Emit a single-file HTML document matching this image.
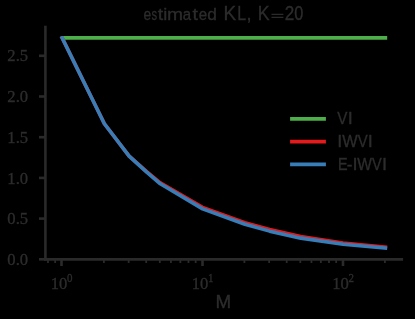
<!DOCTYPE html>
<html><head><meta charset="utf-8"><style>
html,body{margin:0;padding:0;background:#000;}
svg{display:block}
text{fill:#2d2d2d;stroke:#2d2d2d;stroke-width:0.35px}
.tk{font-family:"Liberation Serif",serif;font-size:16.6px}
.lg{font-family:"Liberation Sans",sans-serif;font-size:16px}
.tt{font-family:"Liberation Sans",sans-serif;font-size:19px}
.xl{font-family:"Liberation Sans",sans-serif;font-size:17px}
</style></head><body>
<svg width="415" height="319" viewBox="0 0 415 319">
<rect width="415" height="319" fill="#000"/>
<defs><clipPath id="cl"><rect x="0" y="36.05" width="415" height="283"/></clipPath></defs>
<path d="M62.60,37.89 H387.19" stroke="#4daf4a" stroke-width="3.6" fill="none"/>
<path d="M62.10,37.89 L104.39,123.77 L129.14,156.08 L146.69,171.71 L160.31,182.78 L202.60,207.37 L244.89,222.67 L269.64,229.51 L300.81,236.51 L343.10,242.94 L385.39,247.17" clip-path="url(#cl)" stroke="#e41a1c" stroke-width="3.6" stroke-linecap="square" stroke-linejoin="round" fill="none"/>
<path d="M62.10,37.89 L104.39,123.77 L129.14,156.08 L146.69,172.20 L160.31,183.76 L202.60,208.83 L244.89,224.30 L269.64,231.14 L300.81,238.14 L343.10,244.24 L385.39,248.07" clip-path="url(#cl)" stroke="#377eb8" stroke-width="3.6" stroke-linecap="square" stroke-linejoin="round" fill="none"/>
<path d="M45.40,27.00 V259.40" stroke="#2a2a2a" stroke-width="2.6" stroke-linecap="square" fill="none"/>
<path d="M45.40,259.40 H401.80" stroke="#2a2a2a" stroke-width="2.6" stroke-linecap="square" fill="none"/>
<path d="M39.00,259.30 H45.40" stroke="#2a2a2a" stroke-width="2.6" fill="none"/>
<path d="M39.00,218.60 H45.40" stroke="#2a2a2a" stroke-width="2.6" fill="none"/>
<path d="M39.00,177.90 H45.40" stroke="#2a2a2a" stroke-width="2.6" fill="none"/>
<path d="M39.00,137.20 H45.40" stroke="#2a2a2a" stroke-width="2.6" fill="none"/>
<path d="M39.00,96.50 H45.40" stroke="#2a2a2a" stroke-width="2.6" fill="none"/>
<path d="M39.00,55.80 H45.40" stroke="#2a2a2a" stroke-width="2.6" fill="none"/>
<path d="M61.50,259.40 V266.00" stroke="#2a2a2a" stroke-width="2.6" fill="none"/>
<path d="M202.50,259.40 V266.00" stroke="#2a2a2a" stroke-width="2.6" fill="none"/>
<path d="M343.00,259.40 V266.00" stroke="#2a2a2a" stroke-width="2.6" fill="none"/>
<path d="M47.98,259.40 V263.00" stroke="#2a2a2a" stroke-width="1.8" fill="none"/>
<path d="M55.17,259.40 V263.00" stroke="#2a2a2a" stroke-width="1.8" fill="none"/>
<path d="M103.89,259.40 V263.00" stroke="#2a2a2a" stroke-width="1.8" fill="none"/>
<path d="M128.64,259.40 V263.00" stroke="#2a2a2a" stroke-width="1.8" fill="none"/>
<path d="M146.19,259.40 V263.00" stroke="#2a2a2a" stroke-width="1.8" fill="none"/>
<path d="M159.81,259.40 V263.00" stroke="#2a2a2a" stroke-width="1.8" fill="none"/>
<path d="M170.93,259.40 V263.00" stroke="#2a2a2a" stroke-width="1.8" fill="none"/>
<path d="M180.34,259.40 V263.00" stroke="#2a2a2a" stroke-width="1.8" fill="none"/>
<path d="M188.48,259.40 V263.00" stroke="#2a2a2a" stroke-width="1.8" fill="none"/>
<path d="M195.67,259.40 V263.00" stroke="#2a2a2a" stroke-width="1.8" fill="none"/>
<path d="M244.39,259.40 V263.00" stroke="#2a2a2a" stroke-width="1.8" fill="none"/>
<path d="M269.14,259.40 V263.00" stroke="#2a2a2a" stroke-width="1.8" fill="none"/>
<path d="M286.69,259.40 V263.00" stroke="#2a2a2a" stroke-width="1.8" fill="none"/>
<path d="M300.31,259.40 V263.00" stroke="#2a2a2a" stroke-width="1.8" fill="none"/>
<path d="M311.43,259.40 V263.00" stroke="#2a2a2a" stroke-width="1.8" fill="none"/>
<path d="M320.84,259.40 V263.00" stroke="#2a2a2a" stroke-width="1.8" fill="none"/>
<path d="M328.98,259.40 V263.00" stroke="#2a2a2a" stroke-width="1.8" fill="none"/>
<path d="M336.17,259.40 V263.00" stroke="#2a2a2a" stroke-width="1.8" fill="none"/>
<path d="M384.89,259.40 V263.00" stroke="#2a2a2a" stroke-width="1.8" fill="none"/>
<path d="M291.9,118.90 H324.1" stroke="#4daf4a" stroke-width="3.6" stroke-linecap="square" fill="none"/>
<path d="M291.9,141.65 H324.1" stroke="#e41a1c" stroke-width="3.6" stroke-linecap="square" fill="none"/>
<path d="M291.9,164.40 H324.1" stroke="#377eb8" stroke-width="3.6" stroke-linecap="square" fill="none"/>
<path d="M271.5,14.35 H283.4 M271.5,17.3 H283.4" stroke="#2a2a2a" stroke-width="1.35" fill="none"/>
<g style="will-change:opacity;opacity:0.999"><text x="28.1" y="264.90" text-anchor="end" class="tk">0.0</text>
<text x="28.1" y="224.20" text-anchor="end" class="tk">0.5</text>
<text x="28.1" y="183.50" text-anchor="end" class="tk">1.0</text>
<text x="28.1" y="142.80" text-anchor="end" class="tk">1.5</text>
<text x="28.1" y="102.10" text-anchor="end" class="tk">2.0</text>
<text x="28.1" y="61.40" text-anchor="end" class="tk">2.5</text>
<text x="50.70" y="288.7" class="tk">10</text>
<text x="67.10" y="282.4" class="tk" style="font-size:12.6px" textLength="5.5" lengthAdjust="spacingAndGlyphs">0</text>
<text x="191.70" y="288.7" class="tk">10</text>
<text x="208.10" y="282.4" class="tk" style="font-size:12.6px" textLength="5.5" lengthAdjust="spacingAndGlyphs">1</text>
<text x="332.20" y="288.7" class="tk">10</text>
<text x="348.60" y="282.4" class="tk" style="font-size:12.6px" textLength="5.5" lengthAdjust="spacingAndGlyphs">2</text>
<text transform="translate(337.33,124.25) scale(0.9378,1.0000)" class="lg" style="font-size:16.20px">V</text>
<text transform="translate(347.72,124.25) scale(1.1252,1.0000)" class="lg" style="font-size:16.20px">I</text>
<text transform="translate(337.22,147.00) scale(1.1252,1.0000)" class="lg" style="font-size:16.20px">I</text>
<text transform="translate(342.33,147.00) scale(1.0090,1.0000)" class="lg" style="font-size:16.20px">W</text>
<text transform="translate(357.83,147.00) scale(0.9191,1.0000)" class="lg" style="font-size:16.20px">V</text>
<text transform="translate(367.72,147.00) scale(1.1252,1.0000)" class="lg" style="font-size:16.20px">I</text>
<text transform="translate(337.92,169.75) scale(0.8884,1.0000)" class="lg" style="font-size:16.20px">E</text>
<text transform="translate(346.64,169.75) scale(1.0619,1.0000)" class="lg" style="font-size:16.20px">-</text>
<text transform="translate(352.42,169.75) scale(1.1252,1.0000)" class="lg" style="font-size:16.20px">I</text>
<text transform="translate(357.13,169.75) scale(0.9628,1.0000)" class="lg" style="font-size:16.20px">W</text>
<text transform="translate(371.94,169.75) scale(0.9003,1.0000)" class="lg" style="font-size:16.20px">V</text>
<text transform="translate(382.02,169.75) scale(1.1252,1.0000)" class="lg" style="font-size:16.20px">I</text>
<text transform="translate(143.61,20.45) scale(0.8054,1.0000)" class="tt" style="font-size:17.20px">e</text>
<text transform="translate(151.39,20.45) scale(0.6534,1.0000)" class="tt" style="font-size:17.20px">s</text>
<text transform="translate(157.70,20.45) scale(1.1383,1.0000)" class="tt" style="font-size:17.20px">t</text>
<text transform="translate(163.28,20.45) scale(1.0584,1.0000)" class="tt" style="font-size:17.20px">i</text>
<text transform="translate(167.02,20.45) scale(1.1202,1.0000)" class="tt" style="font-size:17.20px">m</text>
<text transform="translate(182.86,20.45) scale(0.8715,1.0000)" class="tt" style="font-size:17.20px">a</text>
<text transform="translate(192.50,20.45) scale(1.1383,1.0000)" class="tt" style="font-size:17.20px">t</text>
<text transform="translate(198.76,20.45) scale(0.8797,1.0000)" class="tt" style="font-size:17.20px">e</text>
<text transform="translate(207.37,20.45) scale(1.0084,1.0000)" class="tt" style="font-size:17.20px">d</text>
<text transform="translate(223.44,20.45) scale(0.9793,1.0000)" class="tt" style="font-size:19.40px">K</text>
<text transform="translate(237.30,20.45) scale(0.8183,1.0000)" class="tt" style="font-size:19.40px">L</text>
<text transform="translate(246.45,20.45) scale(0.9653,1.0000)" class="tt" style="font-size:19.00px">,</text>
<text transform="translate(257.84,20.45) scale(0.9164,1.0000)" class="tt" style="font-size:19.40px">K</text>
<text transform="translate(284.64,20.45) scale(0.8826,1.0000)" class="tt" style="font-size:19.40px">2</text>
<text transform="translate(294.26,20.45) scale(0.8411,1.0000)" class="tt" style="font-size:19.40px">0</text>
<text transform="translate(215.60,307.60) scale(1.0702,1.0000)" class="xl" style="font-size:17.60px">M</text></g>
</svg></body></html>
